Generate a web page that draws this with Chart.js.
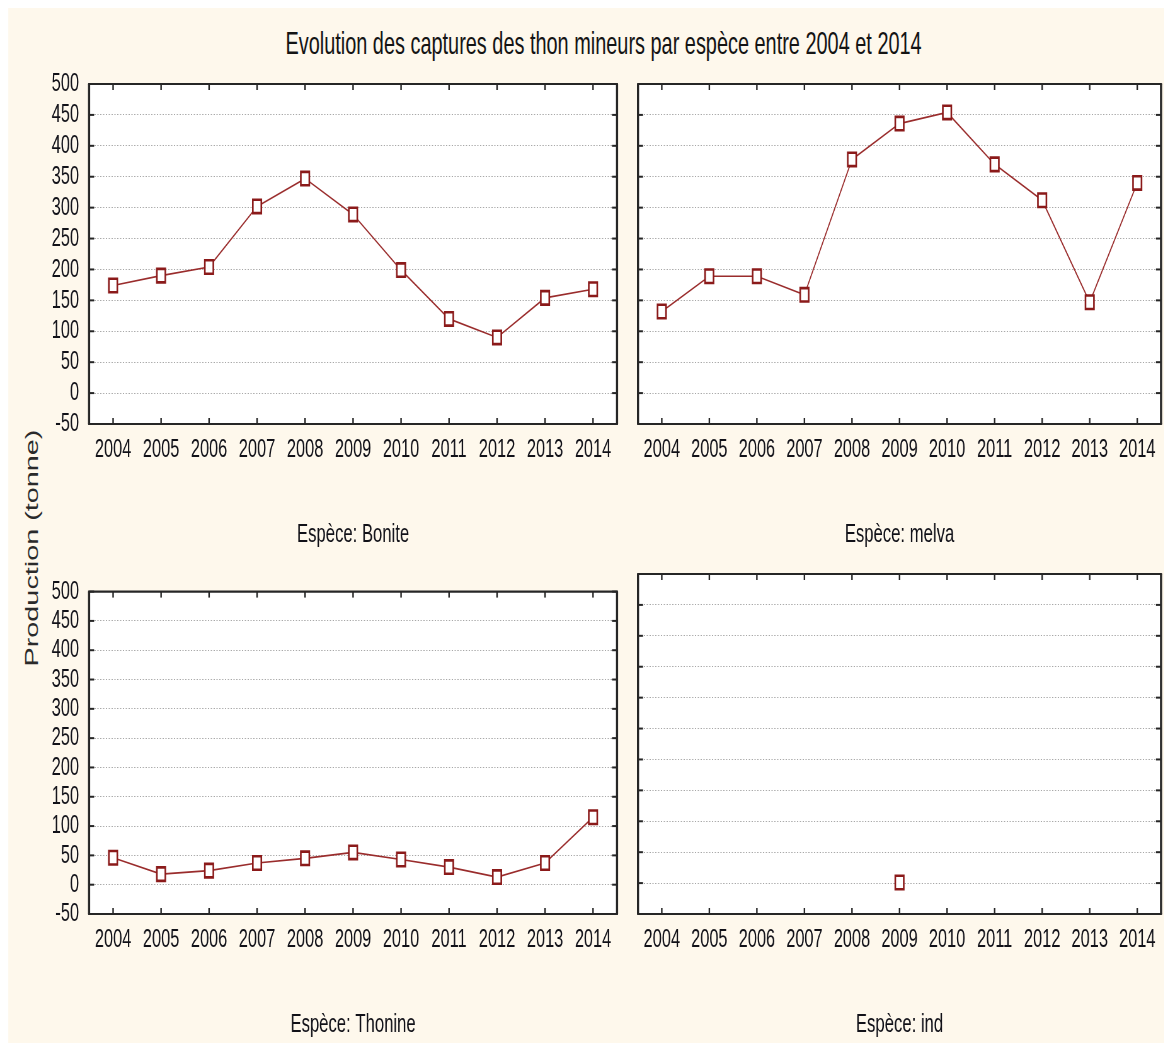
<!DOCTYPE html>
<html>
<head>
<meta charset="utf-8">
<script src="https://cdn.jsdelivr.net/npm/chart.js@4.4.1/dist/chart.umd.min.js"></script>
<style>
html,body{margin:0;padding:0;background:#ffffff;overflow:hidden;width:1164px;height:1043px;}
#wrap{position:absolute;left:0;top:0;width:1860px;height:1043px;transform:scaleX(0.63);transform-origin:0 0;}
#bg{position:absolute;left:12.7px;top:8px;width:1860px;height:1035px;background:#fef8ec;}
canvas{position:absolute;}
#title{position:absolute;left:0;top:25px;width:1916px;text-align:center;font-family:"Liberation Sans",Arial,sans-serif;font-size:31.6px;line-height:36px;color:#141414;white-space:nowrap;}
#ytitle{position:absolute;left:50px;top:548px;transform:translate(-50%,-50%) rotate(-90deg);font-family:"Liberation Sans",Arial,sans-serif;font-size:28.8px;line-height:1;color:#2a2a2a;white-space:nowrap;}
</style>
</head>
<body>
<div id="wrap">
  <div id="bg"></div>
  <div id="title">Evolution des captures des thon mineurs par espèce entre 2004 et 2014</div>
  <div id="ytitle">Production (tonne)</div>
  <canvas id="c1"></canvas>
  <canvas id="c2"></canvas>
  <canvas id="c3"></canvas>
  <canvas id="c4"></canvas>
</div>
<script>
// ---- data ----
const years = ['2004','2005','2006','2007','2008','2009','2010','2011','2012','2013','2014'];
const bonite  = [174, 190, 204, 302, 347, 289, 199, 120, 90, 154, 168];
const melva   = [132, 189, 189, 159, 378, 436, 454, 370, 312, 147, 340];
const thonine = [46, 18, 24, 37, 45, 55, 43, 30, 13, 37, 115];
const ind     = [null, null, null, null, null, 1, null, null, null, null, null];
const speciesTitles = ['Espèce: Bonite', 'Espèce: melva', 'Espèce: Thonine', 'Espèce: ind'];
const yMin = -50, yMax = 500, yStep = 50;

const FONT = '"Liberation Sans", Arial, sans-serif';
const TEXT = '#111118';
const LINE = '#9a2c2c';
const MARK = '#8b1a1a';

const frameTicks = {
  id: 'frameTicks',
  beforeDraw(chart) {
    const {ctx, chartArea: a} = chart;
    ctx.save();
    ctx.fillStyle = '#ffffff';
    ctx.fillRect(a.left, a.top, a.right - a.left, a.bottom - a.top);
    ctx.restore();
  },
  beforeDatasetsDraw(chart) {
    const {ctx, chartArea: a, scales: {x, y}} = chart;
    const seg = (x1, y1, x2, y2) => { ctx.beginPath(); ctx.moveTo(x1, y1); ctx.lineTo(x2, y2); ctx.stroke(); };
    ctx.save();
    ctx.strokeStyle = '#262626';
    ctx.lineWidth = 2.4;
    x.ticks.forEach((t, i) => {
      const px = x.getPixelForTick(i);
      seg(px, a.bottom, px, a.bottom - 6);
      seg(px, a.top, px, a.top + 6);
    });
    ctx.lineWidth = 2;
    y.ticks.forEach(t => {
      const py = y.getPixelForValue(t.value);
      seg(a.left, py, a.left + 8, py);
      seg(a.right, py, a.right - 8, py);
    });
    ctx.lineWidth = 2.2;
    seg(a.left - 1.5, a.top, a.right + 1.5, a.top);
    seg(a.left - 1.5, a.bottom, a.right + 1.5, a.bottom);
    ctx.lineWidth = 3.4;
    seg(a.left, a.top, a.left, a.bottom);
    seg(a.right, a.top, a.right, a.bottom);
    ctx.restore();
  }
};

function makePanel(id, pos, plot, pb, values, subtitle, showY) {
  const cv = document.getElementById(id);
  cv.width = pos.w; cv.height = pos.h;
  cv.style.left = pos.l + 'px'; cv.style.top = pos.t + 'px';
  cv.style.width = pos.w + 'px'; cv.style.height = pos.h + 'px';
  new Chart(cv, {
    type: 'line',
    data: {
      labels: years,
      datasets: [{
        data: values,
        borderColor: LINE,
        borderWidth: 1.7,
        pointStyle: 'rect',
        pointRadius: 9.5,
        pointBorderWidth: 2.6,
        pointBorderColor: MARK,
        pointBackgroundColor: '#ffffff',
        spanGaps: false,
        tension: 0,
        clip: false
      }]
    },
    options: {
      responsive: false,
      animation: false,
      devicePixelRatio: 1,
      layout: {padding: {left: 0, top: plot.top, right: pos.w - plot.right, bottom: pb}},
      plugins: {legend: {display: false}, tooltip: {enabled: false}},
      scales: {
        x: {
          type: 'category',
          offset: true,
          grid: {display: false, drawTicks: false},
          border: {display: false},
          ticks: {color: TEXT, font: {family: FONT, size: 26}, padding: 10, autoSkip: false, maxRotation: 0},
          title: {display: true, text: subtitle, color: TEXT, font: {family: FONT, size: 26.5}, padding: {top: 0, bottom: 0}},
          afterFit(s) { s.height = pos.h - plot.bottom - pb; }
        },
        y: {
          min: yMin, max: yMax,
          grid: {display: true, drawTicks: false, color: '#a8a8a8', lineWidth: 1},
          border: {display: false, dash: [2, 2.5]},
          ticks: {display: showY, stepSize: yStep, autoSkip: false, color: TEXT, font: {family: FONT, size: 26}, padding: 16},
          afterFit(s) { s.width = plot.left; }
        }
      }
    },
    plugins: [frameTicks]
  });
}

// unsquished horizontal coordinates (page is scaled by 0.63 horizontally)
makePanel('c1', {l: 0, t: 0, w: 995, h: 560},   {left: 141.4, right: 979.4, top: 84, bottom: 424}, 9, bonite, speciesTitles[0], true);
makePanel('c2', {l: 995, t: 0, w: 860, h: 560}, {left: 17.7, right: 854.2, top: 84, bottom: 424}, 9, melva, speciesTitles[1], false);
makePanel('c3', {l: 0, t: 560, w: 995, h: 483}, {left: 141.4, right: 979.4, top: 14, bottom: 354}, 2, thonine, speciesTitles[2], true);
makePanel('c4', {l: 995, t: 560, w: 860, h: 483}, {left: 17.7, right: 854.2, top: 14, bottom: 354}, 2, ind, speciesTitles[3], false);
</script>
</body>
</html>
